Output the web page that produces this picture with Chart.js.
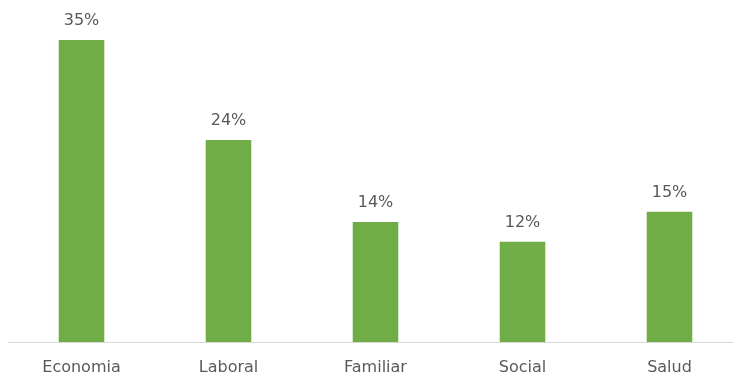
<!DOCTYPE html>
<html>
<head>
<meta charset="utf-8">
<script src="https://cdn.jsdelivr.net/npm/chart.js@4"></script>
<style>
    html, body { margin: 0; padding: 0; background: #fff; overflow: hidden; }
    #wrap { width: 733px; height: 375px; overflow: hidden; }
</style>
</head>
<body>
<div id="wrap"><canvas id="myChart" width="743" height="375"></canvas></div>
<script>
const categories = ['Economia', 'Laboral', 'Familiar', 'Social', 'Salud'];
const values = [35, 23.4, 13.9, 11.6, 15.1];
const valueLabels = ['35%', '24%', '14%', '12%', '15%'];

const textColor = '#595959';
const fontFamily = '"DejaVu Sans", sans-serif';

// labels above the bars
const barLabels = {
    id: 'barLabels',
    afterDatasetsDraw(chart) {
        const ctx = chart.ctx;
        const meta = chart.getDatasetMeta(0);
        ctx.save();
        ctx.font = '16px ' + fontFamily;
        ctx.fillStyle = textColor;
        ctx.textAlign = 'center';
        ctx.textBaseline = 'alphabetic';
        meta.data.forEach((bar, i) => {
            ctx.fillText(valueLabels[i], bar.x, bar.y - 15);
        });
        ctx.restore();
    }
};

const data = {
    labels: categories,
    datasets: [{
        data: values,
        backgroundColor: '#70AD47',
        borderWidth: 0,
        categoryPercentage: 1,
        barPercentage: 0.31
    }]
};

const config = {
    type: 'bar',
    data: data,
    options: {
        responsive: false,
        animation: false,
        layout: { padding: { top: 14, left: 8, right: 0, bottom: 0 } },
        plugins: {
            legend: { display: false },
            tooltip: { enabled: false }
        },
        scales: {
            x: {
                grid: { display: false },
                border: { color: '#D9D9D9', width: 1 },
                ticks: {
                    color: textColor,
                    padding: 8,
                    font: { family: fontFamily, size: 16 }
                },
                afterFit(scale) {
                    scale.height = 33;
                }
            },
            y: {
                display: false,
                min: 0,
                max: 38
            }
        }
    },
    plugins: [barLabels]
};

const myChart = new Chart(document.getElementById('myChart'), config);
</script>
</body>
</html>
